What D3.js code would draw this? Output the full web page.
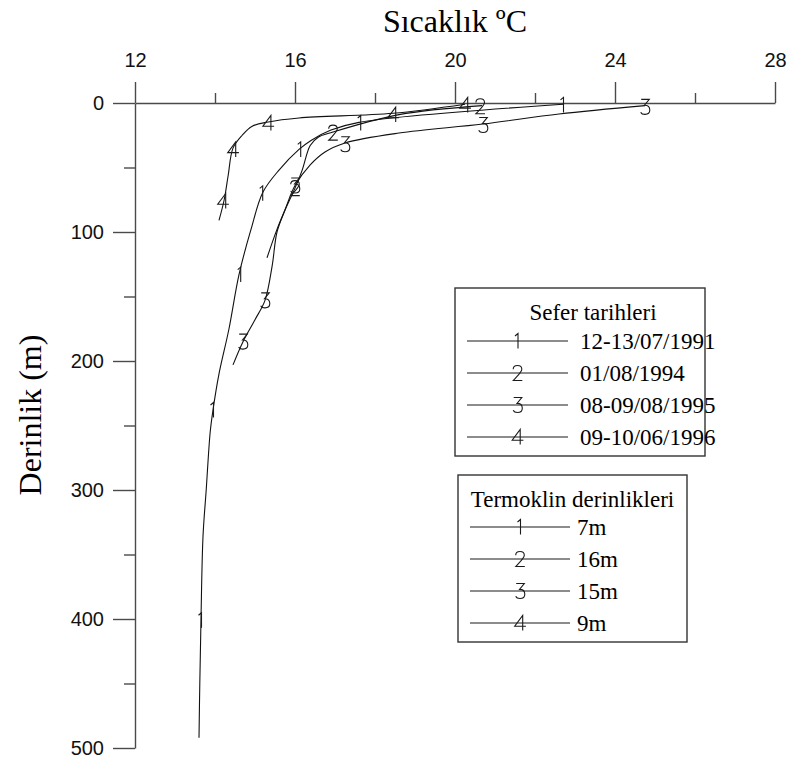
<!DOCTYPE html>
<html>
<head>
<meta charset="utf-8">
<script src="https://cdn.jsdelivr.net/npm/d3@7"></script>
<style>
  body { margin: 0; background: #fff; }
  svg { display: block; }
</style>
</head>
<body>
<svg id="chart" width="793" height="763"></svg>
<script>
(function() {
    // temperature (degC), depth (m) pairs
    const profile1 = [[22.7,1],[17.6,15],[16.9,21],[16.4,29],[16.1,36],[15.6,52],[15.2,69],
        [14.9,98],[14.6,133],[14.35,175],[14.1,210],[13.95,238],[13.88,255],[13.78,300],
        [13.7,336],[13.65,400],[13.62,450],[13.6,492]];
    const profile2 = [[20.68,2],[18.6,9],[16.95,22.5],[16.58,26.5],[16.38,33],[16.18,52],
        [16.0,66],[15.75,83],[15.55,98],[15.3,120]];
    const profile3 = [[24.75,2],[22.6,8.5],[20.7,16.3],[18.6,23.3],[17.25,31],[16.75,38],
        [16.38,48],[16.0,64],[15.75,83],[15.55,100],[15.43,126],[15.25,153],[15.0,168],
        [14.7,185],[14.45,203]];
    const profile4 = [[20.25,1],[18.45,8],[16.1,11.6],[15.33,14.7],[14.93,18],[14.68,25],
        [14.45,35],[14.33,56],[14.23,75],[14.1,91]];

    // where the curve numbers sit along each profile
    const marks1 = [[22.7,1.5],[17.63,15.5],[16.13,36],[15.18,70],[14.63,133],[13.95,238],[13.65,401]];
    const marks2 = [[20.63,2.5],[16.95,23],[16.0,66]];
    const marks3 = [[24.75,3],[20.7,17],[17.25,32],[16.0,64],[15.25,153],[14.7,185]];
    const marks4 = [[20.25,1.5],[18.45,9],[15.33,15.5],[14.45,36],[14.2,76]];

    const tempTicks = [12,16,20,24,28];
    const tempMinor = [14,18,22,26];
    const depthTicks = [0,100,200,300,400,500];
    const depthMinor = [50,150,250,350,450];

    const seferLabels = ["12-13/07/1991","01/08/1994","08-09/08/1995","09-10/06/1996"];
    const termoklinLabels = ["7m","16m","15m","9m"];

    const profiles = [profile1, profile2, profile3, profile4];
    const marks = [marks1, marks2, marks3, marks4];

    // single stroke digits, roughly 15px tall, centred on 0,0
    const digit = {
        1: "M-2.5,-5 L0.5,-7.5 L0.5,7.5",
        2: "M-4.3,-3.8 C-4.3,-6.4 -2.2,-7.5 0,-7.5 C2.7,-7.5 4.3,-5.9 4.3,-3.8 C4.3,-1.1 2.2,0.5 -4.3,7.5 L4.8,7.5",
        3: "M-3.8,-7.5 L4.3,-7.5 L-0.5,-1.6 C3.2,-1.6 4.8,0.5 4.8,3.2 C4.8,5.9 2.7,7.5 0,7.5 C-2.2,7.5 -3.8,6.4 -4.3,5.3",
        4: "M2.7,7.5 L2.7,-7.5 L-5.3,3.2 L5.9,3.2"
    };

    const svg = d3.select("#chart");

    const x = d3.scaleLinear().domain([12, 28]).range([135, 775]);
    const y = d3.scaleLinear().domain([0, 500]).range([103, 748]);

    const axisColor = "#4a4a4a";

    // top axis
    svg.append("g")
        .attr("transform", `translate(0,${y(0)})`)
        .call(d3.axisTop(x).tickValues(tempTicks).tickSize(21).tickSizeOuter(0).tickPadding(15));
    svg.append("g")
        .attr("transform", `translate(0,${y(0)})`)
        .call(d3.axisTop(x).tickValues(tempMinor).tickSize(10).tickFormat(""))
        .select(".domain").remove();

    // left axis
    svg.append("g")
        .attr("transform", `translate(${x(12)},0)`)
        .call(d3.axisLeft(y).tickValues(depthTicks).tickSize(22).tickSizeOuter(0).tickPadding(9));
    svg.append("g")
        .attr("transform", `translate(${x(12)},0)`)
        .call(d3.axisLeft(y).tickValues(depthMinor).tickSize(11).tickFormat(""))
        .select(".domain").remove();

    svg.selectAll(".domain, .tick line")
        .attr("stroke", axisColor)
        .attr("stroke-width", 1.4);
    svg.selectAll(".tick text")
        .attr("font-family", "Liberation Sans, Arial, sans-serif")
        .attr("font-size", 20)
        .attr("fill", "#111");

    // titles
    svg.append("text")
        .attr("x", 455).attr("y", 32)
        .attr("text-anchor", "middle")
        .attr("font-family", "Liberation Serif, Times New Roman, serif")
        .attr("font-size", 32)
        .text("Sıcaklık ºC");
    svg.append("text")
        .attr("transform", "translate(41,415) rotate(-90)")
        .attr("text-anchor", "middle")
        .attr("font-family", "Liberation Serif, Times New Roman, serif")
        .attr("font-size", 32)
        .text("Derinlik (m)");

    // profiles
    const line = d3.line()
        .x(d => x(d[0]))
        .y(d => y(d[1]))
        .curve(d3.curveCatmullRom.alpha(0.5));

    svg.append("g")
        .selectAll("path")
        .data(profiles)
        .join("path")
        .attr("d", line)
        .attr("fill", "none")
        .attr("stroke", "#111")
        .attr("stroke-width", 1.1);

    marks.forEach(function(m, i) {
        svg.append("g")
            .selectAll("path")
            .data(m)
            .join("path")
            .attr("transform", d => `translate(${x(d[0])},${y(d[1])})`)
            .attr("d", digit[i + 1])
            .attr("fill", "none")
            .attr("stroke", "#1a1a1a")
            .attr("stroke-width", 1.1);
    });

    // legends
    function legend(box, title, labels, lineX, textX, rowY, gap) {
        const g = svg.append("g");
        g.append("rect")
            .attr("x", box[0]).attr("y", box[1])
            .attr("width", box[2]).attr("height", box[3])
            .attr("fill", "#fff")
            .attr("stroke", "#333")
            .attr("stroke-width", 1.4);
        g.append("text")
            .attr("x", box[0] + box[2] / 2 + title[1]).attr("y", title[2])
            .attr("text-anchor", "middle")
            .attr("font-family", "Liberation Serif, Times New Roman, serif")
            .attr("font-size", 23)
            .text(title[0]);
        const rows = g.selectAll("g.row")
            .data(labels)
            .join("g")
            .attr("class", "row")
            .attr("transform", (d, i) => `translate(0,${rowY + i * gap})`);
        rows.append("line")
            .attr("x1", lineX[0]).attr("x2", lineX[1])
            .attr("stroke", "#1a1a1a").attr("stroke-width", 1.1);
        rows.append("path")
            .attr("transform", `translate(${(lineX[0] + lineX[1]) / 2},0)`)
            .attr("d", (d, i) => digit[i + 1])
            .attr("fill", "none").attr("stroke", "#1a1a1a").attr("stroke-width", 1.1);
        rows.append("text")
            .attr("x", textX).attr("y", 7.5)
            .attr("font-family", "Liberation Serif, Times New Roman, serif")
            .attr("font-size", 23)
            .text(d => d);
    }

    legend([455, 288, 250, 168], ["Sefer tarihleri", 13, 320], seferLabels, [467, 568], 580, 341, 32);
    legend([458, 475, 229, 167], ["Termoklin derinlikleri", 0, 507], termoklinLabels, [470, 570], 577, 527, 32);
})();
</script>
</body>
</html>
